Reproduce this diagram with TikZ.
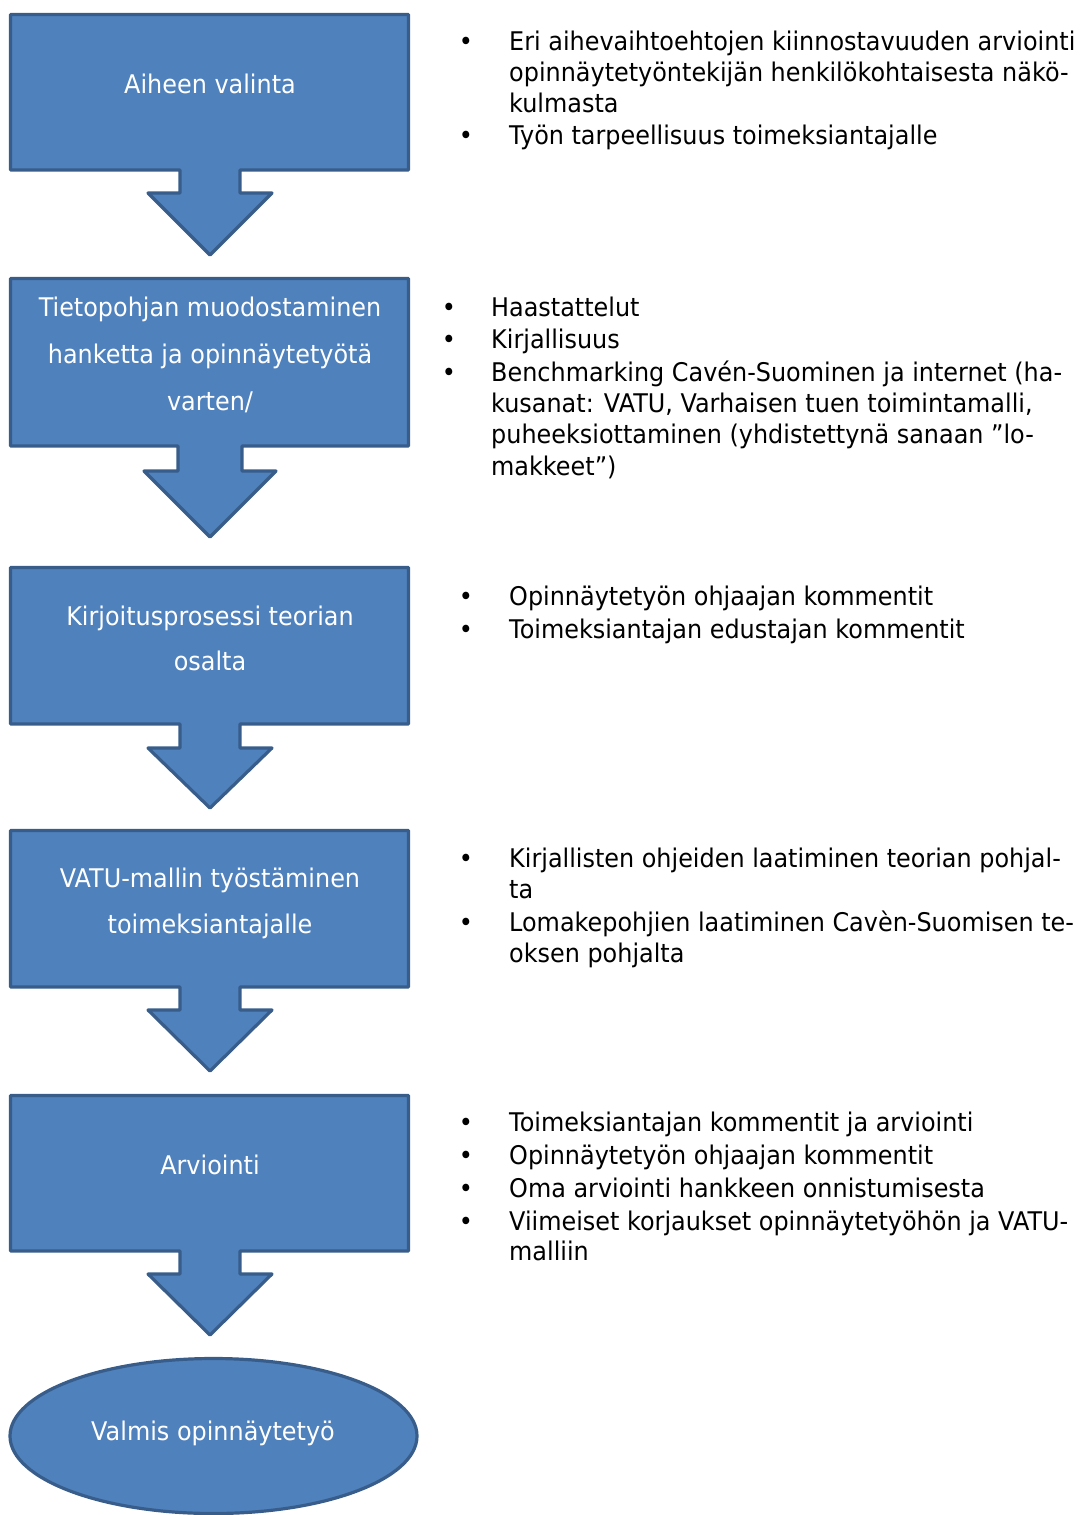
\documentclass[tikz,border=0pt]{standalone}
\usepackage{fontspec}
\setmainfont[FakeStretch=0.93]{DejaVu Sans}
\definecolor{boxfill}{HTML}{4F81BD}
\definecolor{boxline}{HTML}{385D8A}
\begin{document}
\begin{tikzpicture}[x=1bp,y=-1bp,
  shapebox/.style={fill=boxfill,draw=boxline,line width=3.2bp,line join=round},
  boxtext/.style={anchor=base,inner sep=0pt,text=white,font=\fontsize{25.8pt}{31pt}\selectfont},
  itemtext/.style={anchor=base west,inner sep=0pt,font=\fontsize{25.8pt}{31pt}\selectfont},
  bulletmark/.style={anchor=base,inner sep=0pt,font=\fontsize{25.8pt}{31pt}\selectfont}]
\useasboundingbox (0,0) rectangle (1079,1515);
% box 1
\draw[shapebox] (10.5,14.5) -- (408.5,14.5) -- (408.5,170) -- (240,170) -- (240,193) -- (272,193) -- (210,255) -- (148,193) -- (180,193) -- (180,170) -- (10.5,170) -- cycle;
% box 2
\draw[shapebox] (10.5,278.5) -- (408.5,278.5) -- (408.5,446) -- (242,446) -- (242,471) -- (276,471) -- (210,537) -- (144,471) -- (178,471) -- (178,446) -- (10.5,446) -- cycle;
% box 3
\draw[shapebox] (10.5,567.5) -- (408.5,567.5) -- (408.5,724) -- (240,724) -- (240,748) -- (272,748) -- (210,808) -- (148,748) -- (180,748) -- (180,724) -- (10.5,724) -- cycle;
% box 4
\draw[shapebox] (10.5,830.5) -- (408.5,830.5) -- (408.5,987) -- (240,987) -- (240,1010) -- (272,1010) -- (210,1071) -- (148,1010) -- (180,1010) -- (180,987) -- (10.5,987) -- cycle;
% box 5
\draw[shapebox] (10.5,1095.5) -- (408.5,1095.5) -- (408.5,1251) -- (240,1251) -- (240,1274) -- (272,1274) -- (210,1335) -- (148,1274) -- (180,1274) -- (180,1251) -- (10.5,1251) -- cycle;
% final ellipse
\draw[shapebox] (213.5,1436) ellipse [x radius=203.5, y radius=77.5];

% box texts
\node[boxtext] (a1) at (210,94) {Aiheen valinta};
\node[boxtext] (b1) at (210,316) {Tietopohjan muodostaminen};
\node[boxtext] (b2) at (210,363) {hanketta ja opinnäytetyötä};
\node[boxtext] (b3) at (210,410) {varten/};
\node[boxtext] (c1) at (210,625) {Kirjoitusprosessi teorian};
\node[boxtext] (c2) at (210,670) {osalta};
\node[boxtext] (d1) at (210,887) {VATU-mallin työstäminen};
\node[boxtext] (d2) at (210,933) {toimeksiantajalle};
\node[boxtext] (e1) at (210,1174) {Arviointi};
\node[boxtext] (f1) at (213,1440) {Valmis opinnäytetyö};

% section 1
\node[bulletmark] (s1b1) at (466,51) {•};
\node[itemtext] (s1l1) at (509,51) {Eri aihevaihtoehtojen kiinnostavuuden arviointi};
\node[itemtext] (s1l2) at (509,82) {opinnäytetyöntekijän henkilökohtaisesta näkö-};
\node[itemtext] (s1l3) at (509,113) {kulmasta};
\node[bulletmark] (s1b2) at (466,145) {•};
\node[itemtext] (s1l4) at (509,145) {Työn tarpeellisuus toimeksiantajalle};

% section 2
\node[bulletmark] (s2b1) at (449,316) {•};
\node[itemtext] (s2l1) at (491,316) {Haastattelut};
\node[bulletmark] (s2b2) at (449,348) {•};
\node[itemtext] (s2l2) at (491,348) {Kirjallisuus};
\node[bulletmark] (s2b3) at (449,381) {•};
\node[itemtext] (s2l3) at (491,381) {Benchmarking Cavén-Suominen ja internet (ha-};
\node[itemtext] (s2l4) at (491,412) {kusanat: VATU, Varhaisen tuen toimintamalli,};
\node[itemtext] (s2l5) at (491,443) {puheeksiottaminen (yhdistettynä sanaan ”lo-};
\node[itemtext] (s2l6) at (491,475) {makkeet”)};

% section 3
\node[bulletmark] (s3b1) at (466,605) {•};
\node[itemtext] (s3l1) at (509,605) {Opinnäytetyön ohjaajan kommentit};
\node[bulletmark] (s3b2) at (466,638) {•};
\node[itemtext] (s3l2) at (509,638) {Toimeksiantajan edustajan kommentit};

% section 4
\node[bulletmark] (s4b1) at (466,867) {•};
\node[itemtext] (s4l1) at (509,867) {Kirjallisten ohjeiden laatiminen teorian pohjal-};
\node[itemtext] (s4l2) at (509,898) {ta};
\node[bulletmark] (s4b2) at (466,931) {•};
\node[itemtext] (s4l3) at (509,931) {Lomakepohjien laatiminen Cavèn-Suomisen te-};
\node[itemtext] (s4l4) at (509,962) {oksen pohjalta};

% section 5
\node[bulletmark] (s5b1) at (466,1131) {•};
\node[itemtext] (s5l1) at (509,1131) {Toimeksiantajan kommentit ja arviointi};
\node[bulletmark] (s5b2) at (466,1164) {•};
\node[itemtext] (s5l2) at (509,1164) {Opinnäytetyön ohjaajan kommentit};
\node[bulletmark] (s5b3) at (466,1197) {•};
\node[itemtext] (s5l3) at (509,1197) {Oma arviointi hankkeen onnistumisesta};
\node[bulletmark] (s5b4) at (466,1230) {•};
\node[itemtext] (s5l4) at (509,1230) {Viimeiset korjaukset opinnäytetyöhön ja VATU-};
\node[itemtext] (s5l5) at (509,1260) {malliin};
\end{tikzpicture}
\end{document}
